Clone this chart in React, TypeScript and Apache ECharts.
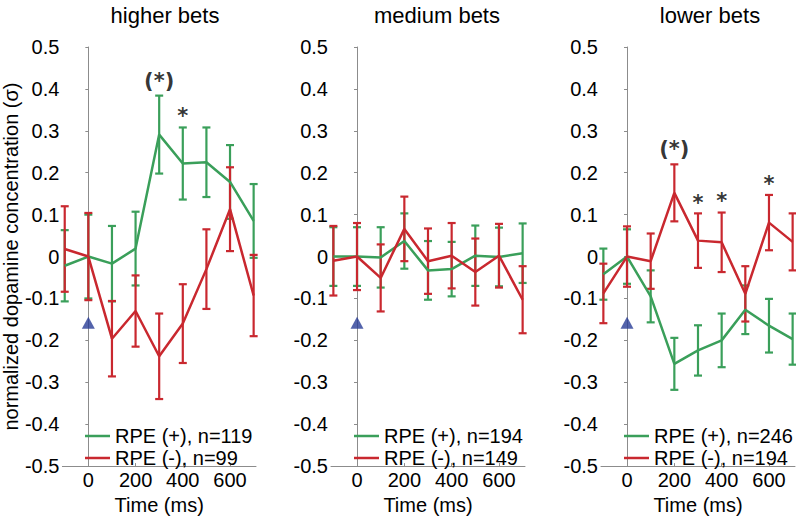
import React, { useEffect, useRef } from "react";
import * as echarts from "echarts";

// ---------- data ----------
const times = [-100, 0, 100, 200, 300, 400, 500, 600, 700];
const tickTimes = [0, 200, 400, 600];

const higherGreen = [-0.022, 0, -0.017, 0.019, 0.291, 0.222, 0.225, 0.178, 0.085];
const higherGreenErr = [0.085, 0.1, 0.09, 0.088, 0.093, 0.086, 0.083, 0.088, 0.088];
const higherRed = [0.018, 0, -0.196, -0.13, -0.238, -0.16, -0.03, 0.113, -0.093];
const higherRedErr = [0.102, 0.104, 0.09, 0.085, 0.102, 0.094, 0.095, 0.1, 0.097];

const mediumGreen = [0, 0, -0.002, 0.037, -0.033, -0.03, 0.002, -0.001, 0.008];
const mediumGreenErr = [0.07, 0.07, 0.072, 0.066, 0.07, 0.065, 0.072, 0.07, 0.071];
const mediumRed = [-0.01, 0, -0.051, 0.066, -0.011, 0.002, -0.037, 0.002, -0.103];
const mediumRedErr = [0.083, 0.08, 0.08, 0.077, 0.078, 0.078, 0.08, 0.076, 0.08];

const lowerGreen = [-0.042, 0, -0.095, -0.256, -0.224, -0.2, -0.127, -0.165, -0.197];
const lowerGreenErr = [0.061, 0.065, 0.062, 0.062, 0.06, 0.064, 0.058, 0.064, 0.061];
const lowerRed = [-0.088, 0, -0.011, 0.152, 0.038, 0.034, -0.089, 0.081, 0.035];
const lowerRedErr = [0.071, 0.072, 0.066, 0.068, 0.065, 0.071, 0.066, 0.066, 0.068];

const panelTitles = ["higher bets", "medium bets", "lower bets"];
const greenNames = ["RPE (+), n=119", "RPE (+), n=194", "RPE (+), n=246"];
const redNames = ["RPE (-), n=99", "RPE (-), n=149", "RPE (-), n=194"];

const higherStarTimes = [300, 400];
const higherStarValues = [0.423, 0.341];
const higherStarTexts = ["(*)", "*"];
const mediumStarTimes: number[] = [];
const mediumStarValues: number[] = [];
const mediumStarTexts: string[] = [];
const lowerStarTimes = [200, 300, 400, 600];
const lowerStarValues = [0.261, 0.133, 0.138, 0.178];
const lowerStarTexts = ["(*)", "*", "*", "*"];

const cueTime = 0;
const cueValue = -0.158;

// ---------- styling ----------
const FONT = '"Liberation Sans", Arial, Helvetica, sans-serif';
const STAR_FONT = '"DejaVu Sans", "Liberation Sans", sans-serif';
const GREEN = "#3a9f5a";
const RED = "#c9282f";
const BLUE = "#283c96";
const AXIS = "#8c8c8c";

const gridLefts = [62, 331, 601];
const gridWidth = 194;
const gridTop = 47;
const gridHeight = 431;
const titleCenters = [165, 437, 710];

const panelData = [
  { g: higherGreen, ge: higherGreenErr, r: higherRed, re: higherRedErr, st: higherStarTimes, sv: higherStarValues, sx: higherStarTexts },
  { g: mediumGreen, ge: mediumGreenErr, r: mediumRed, re: mediumRedErr, st: mediumStarTimes, sv: mediumStarValues, sx: mediumStarTexts },
  { g: lowerGreen, ge: lowerGreenErr, r: lowerRed, re: lowerRedErr, st: lowerStarTimes, sv: lowerStarValues, sx: lowerStarTexts },
];

function errSeries(idx: number, vals: number[], errs: number[], color: string, name: string) {
  return {
    type: "custom",
    name,
    xAxisIndex: idx,
    yAxisIndex: idx,
    clip: false,
    data: times.map((t, i) => [t, vals[i] - errs[i], vals[i] + errs[i]]),
    encode: { x: 0, y: [1, 2] },
    renderItem: (params: any, api: any) => {
      const x = api.value(0);
      const lo = api.value(1);
      const hi = api.value(2);
      const top = api.coord([x, hi]);
      const bot = api.coord([x, lo]);
      const hw = 4;
      const style = { stroke: color, lineWidth: 2.2, fill: "none" };
      return {
        type: "group",
        children: [
          { type: "line", shape: { x1: top[0], y1: top[1], x2: bot[0], y2: bot[1] }, style },
          { type: "line", shape: { x1: top[0] - hw, y1: top[1], x2: top[0] + hw, y2: top[1] }, style },
          { type: "line", shape: { x1: bot[0] - hw, y1: bot[1], x2: bot[0] + hw, y2: bot[1] }, style },
        ],
      };
    },
    silent: true,
  };
}

function lineSeries(idx: number, vals: number[], color: string, name: string) {
  return {
    type: "line",
    name,
    xAxisIndex: idx,
    yAxisIndex: idx,
    data: times.map((t, i) => [t, vals[i]]),
    symbol: "none",
    lineStyle: { color, width: 2.5 },
    itemStyle: { color },
    silent: true,
  };
}

function buildOption() {
  const grid: any[] = [];
  const xAxis: any[] = [];
  const yAxis: any[] = [];
  const series: any[] = [];
  const legend: any[] = [];
  const title: any[] = [];

  panelData.forEach((p, idx) => {
    grid.push({ left: gridLefts[idx], top: gridTop, width: gridWidth, height: gridHeight, containLabel: false });
    xAxis.push({
      type: "value",
      gridIndex: idx,
      min: -110,
      max: 710,
      name: "Time (ms)",
      nameLocation: "middle",
      nameGap: 20,
      nameTextStyle: { fontSize: 20, color: "#000", fontFamily: FONT },
      axisLine: { show: true, onZero: false, lineStyle: { color: AXIS, width: 1 } },
      axisTick: { show: true, inside: true, length: 3, customValues: tickTimes, lineStyle: { color: AXIS } },
      axisLabel: { show: true, customValues: tickTimes, margin: 4, fontSize: 20, color: "#000", fontFamily: FONT },
      splitLine: { show: false },
    });
    yAxis.push({
      type: "value",
      gridIndex: idx,
      min: -0.5,
      max: 0.5,
      interval: 0.1,
      name: idx === 0 ? "normalized dopamine concentration (σ)" : "",
      nameLocation: "middle",
      nameGap: 41,
      nameTextStyle: { fontSize: 20, color: "#000", fontFamily: FONT },
      axisLine: { show: true, lineStyle: { color: AXIS, width: 1 } },
      axisTick: { show: true, inside: false, length: 3, lineStyle: { color: AXIS } },
      axisLabel: {
        show: true,
        margin: 3,
        fontSize: 20,
        color: "#000",
        fontFamily: FONT,
        formatter: (v: number) => String(Math.round(v * 10) / 10),
      },
      splitLine: { show: false },
    });

    series.push(errSeries(idx, p.g, p.ge, GREEN, "errg" + idx));
    series.push(lineSeries(idx, p.g, GREEN, greenNames[idx]));
    series.push(errSeries(idx, p.r, p.re, RED, "errr" + idx));
    series.push(lineSeries(idx, p.r, RED, redNames[idx]));

    series.push({
      type: "scatter",
      name: "cue" + idx,
      xAxisIndex: idx,
      yAxisIndex: idx,
      data: [[cueTime, cueValue]],
      symbol: "triangle",
      symbolSize: [13, 12],
      itemStyle: { color: BLUE },
      silent: true,
    });

    if (p.st.length) {
      series.push({
        type: "scatter",
        name: "stars" + idx,
        xAxisIndex: idx,
        yAxisIndex: idx,
        data: p.st.map((t, i) => [t, p.sv[i], p.sx[i]]),
        symbolSize: 1,
        itemStyle: { color: "rgba(0,0,0,0)" },
        label: {
          show: true,
          position: "inside",
          offset: [0, 2],
          formatter: (q: any) => q.value[2],
          fontSize: 21,
          fontWeight: "bold",
          color: "#000",
          textBorderWidth: 0,
          fontFamily: STAR_FONT,
        },
        silent: true,
      });
    }

    legend.push({
      data: [greenNames[idx], redNames[idx]],
      orient: "vertical",
      left: gridLefts[idx] + 23,
      top: 426,
      padding: 0,
      icon: "rect",
      itemWidth: 25,
      itemHeight: 2.5,
      itemGap: 2,
      selectedMode: false,
      textStyle: { fontSize: 20, color: "#000", fontFamily: FONT },
    });

    title.push({
      text: panelTitles[idx],
      left: titleCenters[idx],
      textAlign: "center",
      top: 4,
      padding: 0,
      textStyle: { fontSize: 22, fontWeight: "normal", color: "#000", fontFamily: FONT },
    });
  });

  return {
    animation: false,
    backgroundColor: "#fff",
    textStyle: { fontFamily: FONT },
    title,
    legend,
    grid,
    xAxis,
    yAxis,
    series,
  };
}

export default function App() {
  const ref = useRef<HTMLDivElement>(null);
  useEffect(() => {
    if (!ref.current) return;
    const chart = echarts.init(ref.current, null, { renderer: "svg" });
    chart.setOption(buildOption() as any);
    return () => chart.dispose();
  }, []);
  return (
    <div
      ref={ref}
      style={{ position: "fixed", left: 0, top: 0, width: 796, height: 520, background: "#fff" }}
    />
  );
}
